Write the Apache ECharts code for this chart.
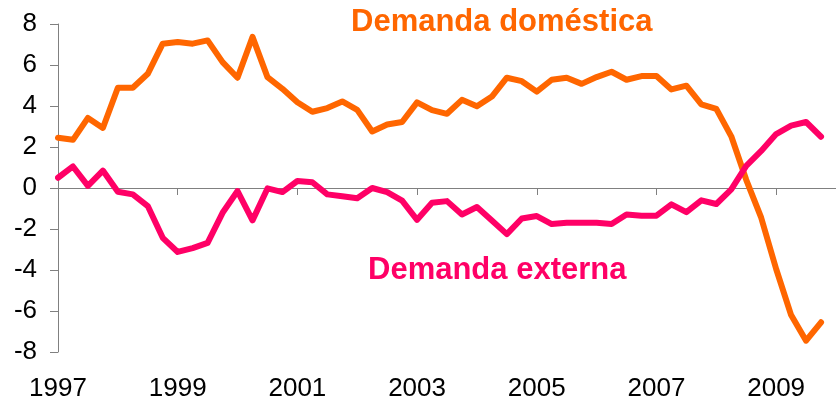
<!DOCTYPE html>
<html>
<head>
<meta charset="utf-8">
<script src="https://cdn.jsdelivr.net/npm/echarts@6/dist/echarts.min.js"></script>
<style>
html,body{margin:0;padding:0;background:#fff;}
#chart{width:836px;height:404px;}
</style>
</head>
<body>
<div id="chart"></div>
<script>
// Quarterly data, 1997 T1 .. 2009 T4
var quarters = [];
for (var y = 1997; y <= 2009; y++) { for (var q = 1; q <= 4; q++) { quarters.push(y + 'T' + q); } }

var demandaDomestica = [
  2.45, 2.35, 3.42, 2.93, 4.89, 4.89, 5.57, 7.04,
  7.12, 7.04, 7.2, 6.14, 5.38, 7.37, 5.41, 4.84,
  4.18, 3.72, 3.9, 4.22, 3.81, 2.76, 3.1, 3.22,
  4.18, 3.8, 3.62, 4.3, 3.99, 4.46, 5.38, 5.21,
  4.7, 5.28, 5.38, 5.08, 5.41, 5.67, 5.28, 5.46,
  5.46, 4.81, 4.99, 4.08, 3.86, 2.52, 0.4, -1.45,
  -3.95, -6.2, -7.45, -6.55
];

var demandaExterna = [
  0.5, 1.05, 0.1, 0.85, -0.18, -0.31, -0.88, -2.43,
  -3.12, -2.93, -2.68, -1.21, -0.15, -1.58, -0.02, -0.2,
  0.34, 0.28, -0.31, -0.4, -0.5, 0.0, -0.2, -0.62,
  -1.55, -0.72, -0.64, -1.29, -0.93, -1.58, -2.25, -1.49,
  -1.37, -1.76, -1.7, -1.7, -1.7, -1.76, -1.29, -1.35,
  -1.35, -0.8, -1.18, -0.6, -0.78, -0.07, 1.08, 1.81,
  2.63, 3.04, 3.22, 2.5
];

var yearLabels = ['1997', '1999', '2001', '2003', '2005', '2007', '2009'];
var yTicks = [-8, -6, -4, -2, 0, 2, 4, 6, 8];

var labelDom = 'Demanda doméstica';
var labelExt = 'Demanda externa';

function pairs(arr) { return arr.map(function (v, i) { return [i, v]; }); }

var FONT = '"Liberation Sans", Arial, Helvetica, sans-serif';
var AXIS = '#808080';

var chart = echarts.init(document.getElementById('chart'), null, { renderer: 'canvas' });
chart.setOption({
  animation: false,
  backgroundColor: '#ffffff',
  grid: { left: 58, top: 24, width: 780, height: 328 },
  xAxis: [
    {
      type: 'value', min: 0, max: 52, interval: 8,
      axisLine: { show: true, onZero: true, lineStyle: { color: AXIS, width: 1 } },
      axisTick: { show: true, length: 7, lineStyle: { color: AXIS } },
      axisLabel: { show: false },
      splitLine: { show: false }
    },
    {
      type: 'value', min: 0, max: 52, interval: 8, position: 'bottom',
      axisLine: { show: false, onZero: false },
      axisTick: { show: false },
      splitLine: { show: false },
      axisLabel: {
        show: true, margin: 24, fontSize: 26, color: '#000', fontFamily: FONT,
        showMaxLabel: false,
        formatter: function (v) { return (v % 8 === 0) ? yearLabels[v / 8] || '' : ''; }
      }
    }
  ],
  yAxis: {
    type: 'value', min: yTicks[0], max: yTicks[yTicks.length - 1], interval: 2,
    axisLine: { show: true, onZero: false, lineStyle: { color: AXIS, width: 1 } },
    axisTick: { show: true, length: 8, lineStyle: { color: AXIS } },
    axisLabel: { fontSize: 26, color: '#000', fontFamily: FONT, margin: 21 },
    splitLine: { show: false }
  },
  series: [
    {
      name: labelDom, type: 'line', xAxisIndex: 0, data: pairs(demandaDomestica),
      symbol: 'none', lineStyle: { color: '#FF6600', width: 6, join: 'round', cap: 'round' },
      itemStyle: { color: '#FF6600' }
    },
    {
      name: labelExt, type: 'line', xAxisIndex: 0, data: pairs(demandaExterna),
      symbol: 'none', lineStyle: { color: '#FF0066', width: 6, join: 'round', cap: 'round' },
      itemStyle: { color: '#FF0066' }
    }
  ],
  graphic: [
    { type: 'text', left: 351, top: 7, style: { text: labelDom, font: 'bold 31px ' + FONT, fill: '#FF6600' } },
    { type: 'text', left: 368, top: 255, style: { text: labelExt, font: 'bold 31px ' + FONT, fill: '#FF0066' } }
  ]
});
</script>
</body>
</html>
